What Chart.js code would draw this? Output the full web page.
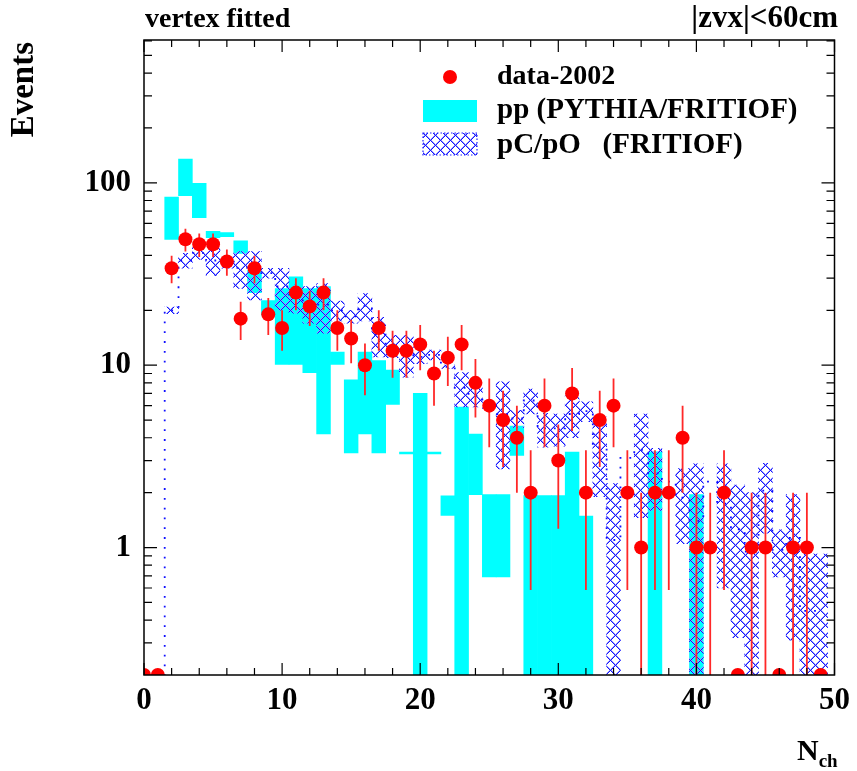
<!DOCTYPE html>
<html>
<head>
<meta charset="utf-8">
<title>Nch, vertex fitted</title>
<script src="https://cdn.jsdelivr.net/npm/chart.js@4.4.1/dist/chart.umd.min.js"></script>
<style>
  body { margin: 0; background: #fff; }
  #wrap { width: 857px; height: 771px; }
</style>
</head>
<body>
<div id="wrap"><canvas id="nchChart" width="857" height="771"></canvas></div>
<script>
// charged multiplicity bins, centred on integers
const nch = Array.from({ length: 50 }, (_, i) => i);

// measured events per bin (errors are sqrt(N))
const dataEvents = [0, 0, 34, 49, 46, 46, 37, 18, 34, 19,
                    16, 25, 21, 25, 16, 14, 10, 16, 12, 12,
                    13, 9, 11, 13, 8, 6, 5, 4, 2, 6,
                    3, 7, 2, 5, 6, 2, 1, 2, 2, 4,
                    1, 1, 2, 0, 1, 1, 0, 1, 1, 0];

// pp simulation (PYTHIA/FRITIOF): bin content and error
const ppVal = [0, 0, 66.2, 110, 82, 52.1, 52, 44.5, 29, 20.7,
               18.2, 20.3, 17.7, 15.6, 10.95, 5.8, 8.0, 6.95, 7.75, 3.3,
               3.3, 3.3, 1.71, 2.9, 3.07, 1.32, 1.32, 3.92, 0.95, 0.95,
               0.95, 1.65, 0.74, 0, 0, 0, 0, 1.65, 0, 0,
               0.95, 0, 0, 0, 0, 0, 0, 0, 0, 0];
const ppErr = [0, 0, 17.2, 25, 17.5, 2.1, 1.3, 3.5, 4, 1.9,
               8.1, 10.2, 8.6, 11.4, 0.85, 2.5, 3.8, 3.65, 1.65, 0.04,
               3.7, 0.04, 0.21, 3.0, 1.12, 0.63, 0.63, 0.72, 0.98, 0.98,
               0.98, 1.69, 0.75, 0, 0, 0, 0, 1.7, 0, 0,
               1.0, 0, 0, 0, 0, 0, 0, 0, 0, 0];

// pC/pO simulation (FRITIOF): bin content and error
const pcVal = [0, 0, 20.0, 37.5, 41.2, 37.5, 37, 34.2, 32.4, 32,
               27, 23.4, 22, 21.5, 20, 18.5, 21.1, 14.7, 12.8, 11.6,
               11.1, 11.4, 9.8, 7.5, 6.8, 6.0, 5.4, 5.1, 6.4, 4.5,
               4.5, 5.4, 5.6, 3.55, 1.1, 3.1, 3.43, 2.55, 2.3, 1.88,
               1.4, 2.3, 1.74, 1.26, 0.95, 2.05, 0.97, 1.13, 0.45, 0.45];
const pcErr = [0, 0, 0.85, 3.5, 3.2, 6.5, 3, 7.8, 9.6, 2,
               7, 4.1, 5, 6.5, 2.5, 1.5, 3.6, 3.6, 1.8, 3.0,
               0.9, 0.7, 0.2, 1.6, 0.9, 0.2, 2.7, 0.55, 1.0, 0.95,
               0.9, 1.4, 0.7, 1.65, 1.14, 0, 1.97, 0.95, 0, 0.83,
               1.48, 0, 1.14, 0.94, 1.05, 0.85, 0.28, 0.82, 0.47, 0.47];

const xTicks = [0, 10, 20, 30, 40, 50];
const yTicks = [1, 10, 100];
const yMin = 0.2;
const yMax = 607;

const serif = '"Liberation Serif", "Times New Roman", serif';

// empty bins sit on the lower frame, like ROOT draws them on a log axis
const onLog = v => (v > 0 ? v : yMin);

// E2-style error boxes: [content - error, content + error]
function boxes(val, err) {
    const out = [];
    for (let i = 0; i < val.length; i++) {
        if (val[i] > 0 && err[i] > 0) {
            out.push({ x: nch[i], y: [Math.max(val[i] - err[i], 0.05), val[i] + err[i]] });
        }
    }
    return out;
}

// blue cross hatch fill
function crossHatch() {
    const n = 10;
    const c = document.createElement('canvas');
    c.width = n;
    c.height = n;
    const g = c.getContext('2d');
    for (let i = 0; i < n; i++) {
        g.fillStyle = '#9a9aff';
        g.fillRect((i + 1) % n, i, 1, 1);
        g.fillRect((2 * n - i - 1) % n, i, 1, 1);
        g.fillStyle = '#1414ff';
        g.fillRect(i, i, 1, 1);
        g.fillRect((n - i) % n, i, 1, 1);
    }
    return g.createPattern(c, 'repeat');
}
const hatch = crossHatch();

// frame with inward ticks, error bars, legend and labels
const rootStyle = {
    id: 'rootStyle',
    beforeDatasetDraw(chart, args) {
        if (args.index !== 0) return;
        const ctx = chart.ctx;
        const a = chart.chartArea;
        const xs = chart.scales.x, ys = chart.scales.y;
        ctx.save();
        ctx.beginPath();
        ctx.rect(a.left, a.top, a.right - a.left, a.bottom - a.top);
        ctx.clip();
        ctx.strokeStyle = 'rgb(255,40,40)';
        ctx.lineWidth = 1.8;
        for (let i = 0; i < dataEvents.length; i++) {
            const v = dataEvents[i];
            if (v <= 0) continue;
            const e = Math.sqrt(v);
            const x = xs.getPixelForValue(nch[i]);
            ctx.beginPath();
            ctx.moveTo(x, ys.getPixelForValue(v + e));
            ctx.lineTo(x, ys.getPixelForValue(onLog(v - e)));
            ctx.stroke();
        }
        ctx.restore();
    },
    afterDraw(chart) {
        const ctx = chart.ctx;
        const a = chart.chartArea;
        const xs = chart.scales.x, ys = chart.scales.y;
        ctx.save();

        // axis frame and ticks
        ctx.strokeStyle = '#000';
        ctx.lineWidth = 1.5;
        ctx.strokeRect(a.left, a.top, a.right - a.left, a.bottom - a.top);
        ctx.lineWidth = 1.2;
        ctx.beginPath();
        for (let v = 0; v <= 50; v += 2) {
            const x = xs.getPixelForValue(v);
            const len = v % 10 === 0 ? 12 : 7;
            ctx.moveTo(x, a.bottom); ctx.lineTo(x, a.bottom - len);
            ctx.moveTo(x, a.top); ctx.lineTo(x, a.top + len);
        }
        for (let e = -1; e <= 2; e++) {
            for (let k = 1; k <= 9; k++) {
                const v = k * Math.pow(10, e);
                if (v <= ys.min || v >= ys.max) continue;
                const y = ys.getPixelForValue(v);
                const len = k === 1 ? 13 : 8;
                ctx.moveTo(a.left, y); ctx.lineTo(a.left + len, y);
                ctx.moveTo(a.right, y); ctx.lineTo(a.right - len, y);
            }
        }
        ctx.stroke();

        // legend
        const ds = chart.data.datasets;
        ctx.fillStyle = ds[0].backgroundColor;
        ctx.beginPath();
        ctx.arc(450, 77, 7, 0, Math.PI * 2);
        ctx.fill();
        ctx.fillStyle = ds[3].backgroundColor;
        ctx.fillRect(423, 100, 54, 22);
        ctx.fillStyle = ds[2].backgroundColor;
        ctx.fillRect(423, 133, 54, 22);
        ctx.strokeStyle = '#2020ff';
        ctx.lineWidth = 1.2;
        ctx.setLineDash([1.5, 2]);
        ctx.strokeRect(423, 133, 54, 22);
        ctx.setLineDash([]);

        ctx.fillStyle = '#000';
        ctx.textAlign = 'left';
        ctx.textBaseline = 'alphabetic';
        ctx.font = 'bold 28px ' + serif;
        ctx.fillText(ds[0].label, 497, 84);
        ctx.font = 'bold 29px ' + serif;
        ctx.fillText(ds[3].label, 497, 118);
        ctx.fillText(ds[2].label, 497, 153);

        // header
        ctx.font = 'bold 28px ' + serif;
        ctx.fillText('vertex fitted', 145, 27);
        ctx.textAlign = 'right';
        ctx.font = 'bold 31px ' + serif;
        ctx.fillText('|zvx|<60cm', 838, 27);

        // axis titles
        ctx.font = 'bold 30px ' + serif;
        ctx.textAlign = 'left';
        ctx.fillText('N', 797, 760);
        const nw = ctx.measureText('N').width;
        ctx.font = 'bold 19px ' + serif;
        ctx.fillText('ch', 797 + nw, 767);

        ctx.translate(33, 42);
        ctx.rotate(-Math.PI / 2);
        ctx.font = 'bold 33px ' + serif;
        ctx.textAlign = 'right';
        ctx.fillText('Events', 0, 0);
        ctx.restore();
    }
};

const tickFont = { family: serif, size: 31, weight: 'bold' };

new Chart(document.getElementById('nchChart'), {
    type: 'bar',
    data: {
        datasets: [
            {
                type: 'scatter',
                label: 'data-2002',
                data: nch.map(n => ({ x: n, y: onLog(dataEvents[n]) })),
                backgroundColor: '#ff0000',
                borderWidth: 0,
                pointRadius: 7,
                pointHoverRadius: 7,
                clip: 0,
                order: 0
            },
            {
                type: 'line',
                label: 'pC/pO outline',
                data: nch.map(n => ({ x: n, y: onLog(pcVal[n]) })),
                stepped: 'middle',
                borderColor: '#1010ff',
                borderWidth: 1.8,
                borderDash: [1.8, 8],
                pointRadius: 0,
                fill: false,
                clip: 0,
                order: 1
            },
            {
                label: 'pC/pO   (FRITIOF)',
                data: boxes(pcVal, pcErr),
                backgroundColor: hatch,
                borderWidth: 0,
                grouped: false,
                categoryPercentage: 1,
                barPercentage: 1,
                clip: 0,
                order: 2
            },
            {
                label: 'pp (PYTHIA/FRITIOF)',
                data: boxes(ppVal, ppErr),
                backgroundColor: '#00ffff',
                borderWidth: 0,
                grouped: false,
                categoryPercentage: 1,
                barPercentage: 1,
                clip: 0,
                order: 3
            }
        ]
    },
    options: {
        responsive: false,
        animation: false,
        devicePixelRatio: 1,
        layout: { padding: { left: 0, top: 40, right: 16, bottom: 0 } },
        plugins: {
            legend: { display: false },
            tooltip: { enabled: false }
        },
        scales: {
            x: {
                type: 'linear',
                min: 0,
                max: 50,
                offset: false,
                grid: { display: false, drawTicks: false },
                border: { display: false },
                afterBuildTicks: s => { s.ticks = xTicks.map(v => ({ value: v })); },
                ticks: { autoSkip: false, maxRotation: 0, padding: 7, color: '#000', font: tickFont },
                afterFit: s => { s.height = 96; }
            },
            y: {
                type: 'logarithmic',
                min: yMin,
                max: yMax,
                grid: { display: false, drawTicks: false },
                border: { display: false },
                afterBuildTicks: s => { s.ticks = yTicks.map(v => ({ value: v })); },
                ticks: { autoSkip: false, padding: 13, color: '#000', font: tickFont, callback: v => String(v) },
                afterFit: s => { s.width = 144; }
            }
        }
    },
    plugins: [rootStyle]
});
</script>
</body>
</html>
